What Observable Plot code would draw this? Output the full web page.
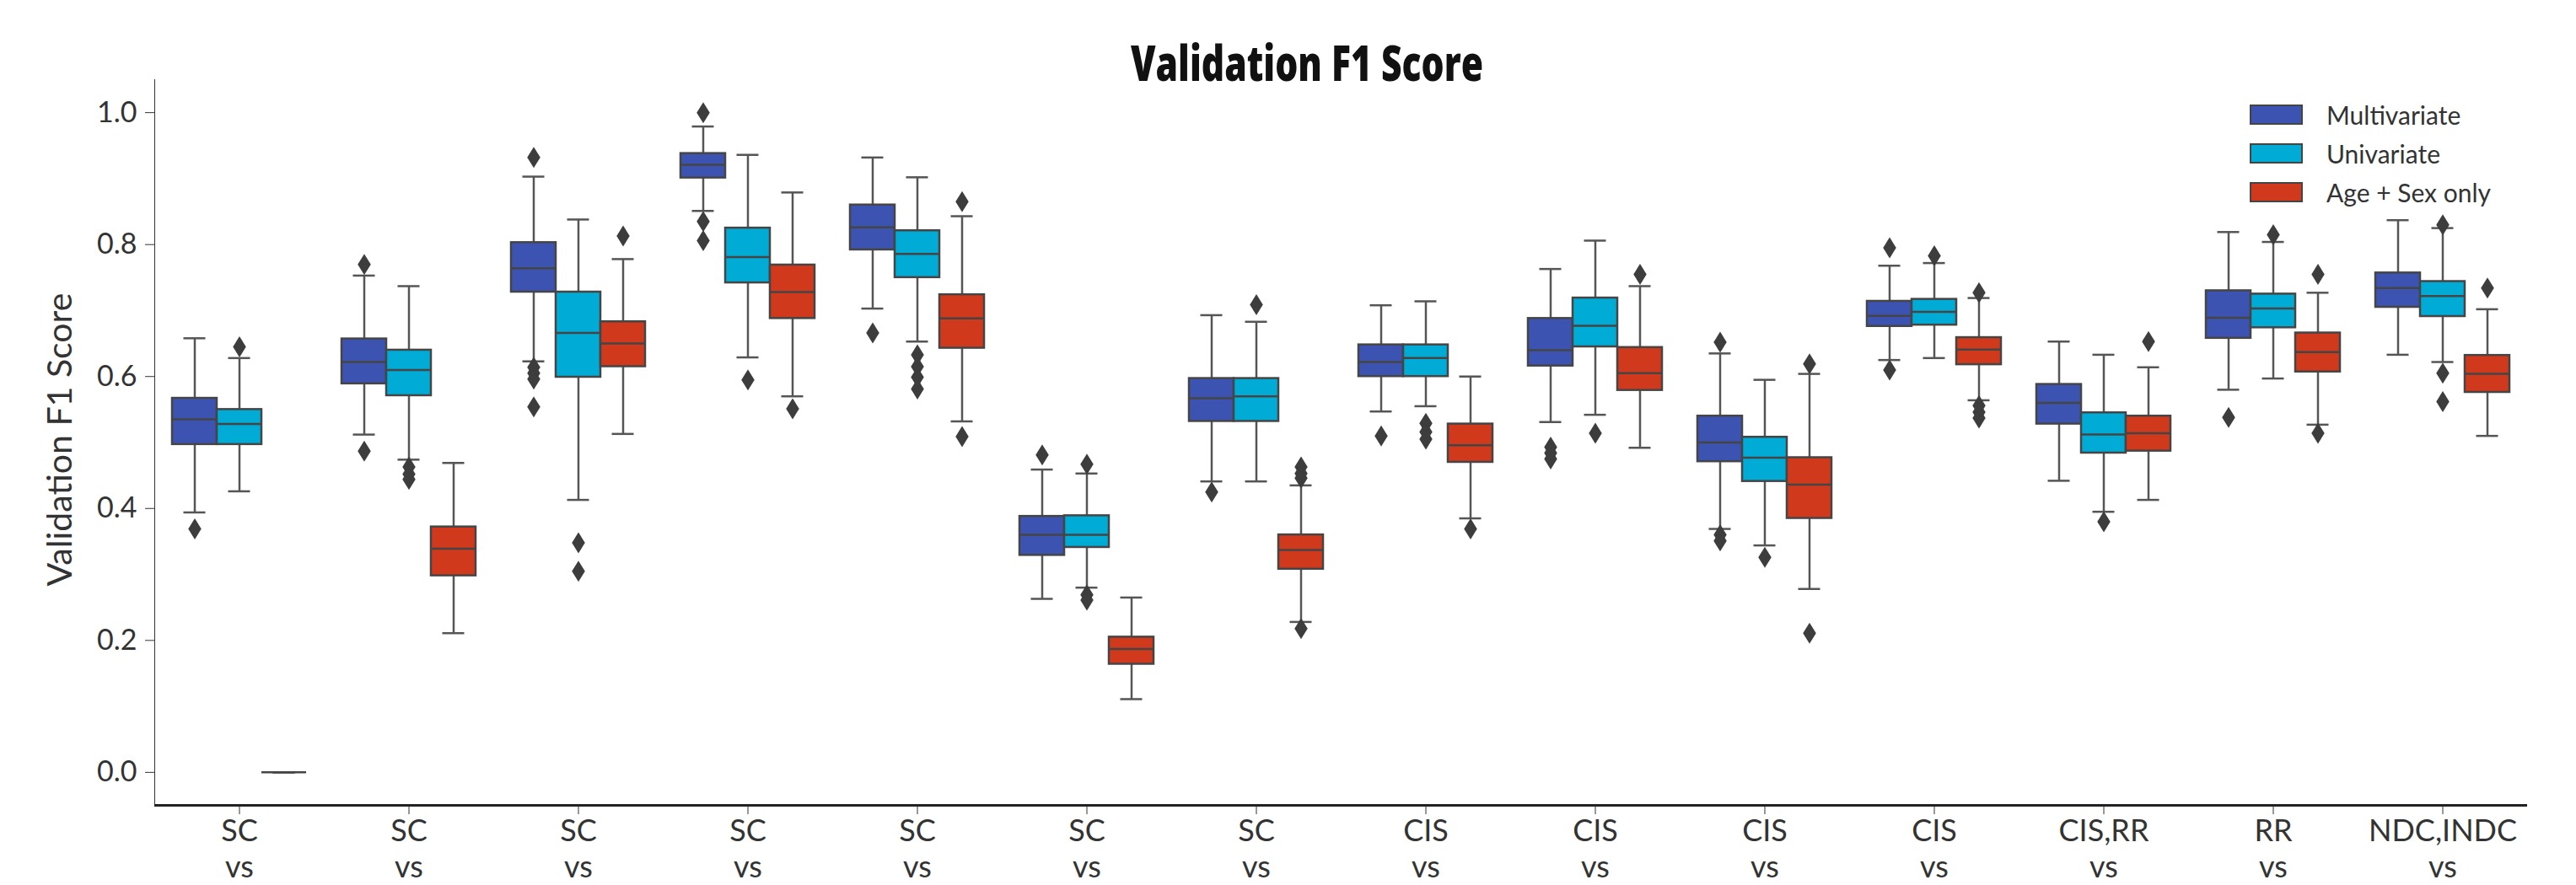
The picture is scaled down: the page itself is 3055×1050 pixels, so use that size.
<!DOCTYPE html>
<html>
<head>
<meta charset="utf-8">
<script src="https://cdn.jsdelivr.net/npm/d3@7"></script>
<script src="https://cdn.jsdelivr.net/npm/@observablehq/plot@0.6"></script>
<style>
  html, body { margin: 0; padding: 0; background: #fff; }
  body { width: 3055px; height: 1050px; overflow: hidden; position: relative; font-family: Lato, "Open Sans", sans-serif; }
  #title { position: absolute; top: 0; left: 0; width: 3055px; height: 88px; z-index: 2; }
  #title span { position: absolute; top: 45px; white-space: nowrap; font-family: "Open Sans", sans-serif; font-weight: 800; font-size: 58px; line-height: 1; color: #111; transform-origin: 0 0; }
  #chart { position: absolute; top: 88px; left: 0; z-index: 1; }
  #ylabel { position: absolute; white-space: nowrap; font-family: Lato, sans-serif; font-size: 36px; color: #333; line-height: 1; transform-origin: 50% 50%; z-index: 2; }
  #legend { position: absolute; left: 2668px; top: 124px; z-index: 2; }
  #legend .row { display: flex; align-items: center; height: 24px; margin-bottom: 22px; }
  #legend .sw { width: 63px; height: 24px; box-sizing: border-box; border: 2.5px solid #444; }
  #legend .lab { margin-left: 28px; font-family: Lato, sans-serif; font-size: 30px; color: #333; }
</style>
</head>
<body>
<div id="title"><span>Validation F1 Score</span></div>
<div id="chart"></div>
<div id="ylabel">Validation F1 Score</div>
<div id="legend"></div>
<script>
// ---- data ----
const categories = ["SC\nvs", "SC\nvs", "SC\nvs", "SC\nvs", "SC\nvs", "SC\nvs", "SC\nvs",
                    "CIS\nvs", "CIS\nvs", "CIS\nvs", "CIS\nvs", "CIS,RR\nvs", "RR\nvs", "NDC,INDC\nvs"];
const seriesNames = ["Multivariate", "Univariate", "Age + Sex only"];
const seriesColors = ["#3C53B2", "#00ABD6", "#D1391C"];
const yTicks = [0.0, 0.2, 0.4, 0.6, 0.8, 1.0];

// [lower whisker, Q1, median, Q3, upper whisker]
const multivariateStats = [
  [0.394, 0.497, 0.535, 0.567, 0.658],
  [0.512, 0.589, 0.622, 0.657, 0.753],
  [0.623, 0.728, 0.764, 0.803, 0.903],
  [0.851, 0.901, 0.921, 0.938, 0.979],
  [0.703, 0.792, 0.826, 0.860, 0.932],
  [0.263, 0.329, 0.360, 0.388, 0.459],
  [0.441, 0.532, 0.567, 0.597, 0.693],
  [0.547, 0.600, 0.622, 0.648, 0.708],
  [0.531, 0.616, 0.640, 0.688, 0.763],
  [0.369, 0.471, 0.500, 0.540, 0.635],
  [0.625, 0.676, 0.692, 0.714, 0.768],
  [0.442, 0.528, 0.560, 0.588, 0.653],
  [0.580, 0.658, 0.689, 0.730, 0.819],
  [0.633, 0.705, 0.734, 0.757, 0.837]
];
const univariateStats = [
  [0.426, 0.497, 0.528, 0.550, 0.628],
  [0.474, 0.571, 0.610, 0.640, 0.737],
  [0.413, 0.599, 0.666, 0.728, 0.838],
  [0.629, 0.742, 0.781, 0.825, 0.936],
  [0.653, 0.750, 0.786, 0.821, 0.902],
  [0.280, 0.341, 0.360, 0.389, 0.453],
  [0.441, 0.532, 0.570, 0.597, 0.683],
  [0.555, 0.600, 0.628, 0.648, 0.714],
  [0.542, 0.645, 0.677, 0.719, 0.806],
  [0.344, 0.441, 0.477, 0.508, 0.595],
  [0.628, 0.678, 0.698, 0.717, 0.772],
  [0.395, 0.484, 0.512, 0.545, 0.633],
  [0.597, 0.674, 0.703, 0.725, 0.804],
  [0.622, 0.691, 0.722, 0.744, 0.825]
];
const ageSexStats = [
  [0.000, 0.000, 0.000, 0.000, 0.000],
  [0.211, 0.298, 0.339, 0.372, 0.469],
  [0.513, 0.615, 0.650, 0.683, 0.778],
  [0.570, 0.688, 0.728, 0.769, 0.879],
  [0.532, 0.643, 0.688, 0.724, 0.843],
  [0.111, 0.164, 0.187, 0.205, 0.265],
  [0.228, 0.308, 0.337, 0.360, 0.435],
  [0.385, 0.470, 0.496, 0.528, 0.600],
  [0.492, 0.579, 0.605, 0.644, 0.737],
  [0.278, 0.385, 0.436, 0.477, 0.604],
  [0.564, 0.618, 0.641, 0.659, 0.719],
  [0.413, 0.487, 0.514, 0.540, 0.614],
  [0.527, 0.607, 0.637, 0.666, 0.727],
  [0.510, 0.576, 0.604, 0.632, 0.702]
];

const multivariateOutliers = [
  [0.369], [0.770, 0.487], [0.932, 0.614, 0.605, 0.596, 0.554], [1.000, 0.835, 0.806],
  [0.666], [0.481], [0.425], [0.510], [0.493, 0.484, 0.475], [0.652, 0.360, 0.351],
  [0.795, 0.610], [], [0.538], []
];
const univariateOutliers = [
  [0.645], [0.463, 0.452, 0.444], [0.348, 0.305], [0.595], [0.633, 0.615, 0.599, 0.581],
  [0.467, 0.269, 0.261], [0.709], [0.529, 0.516, 0.505], [0.514], [0.326], [0.783],
  [0.380], [0.815], [0.830, 0.605, 0.562]
];
const ageSexOutliers = [
  [], [], [0.813], [0.551], [0.865, 0.509], [], [0.463, 0.453, 0.446, 0.218], [0.369],
  [0.755], [0.619, 0.211], [0.727, 0.556, 0.546, 0.537], [0.653], [0.755, 0.514], [0.734]
];

// ---- build tables ----
const allStats = [multivariateStats, univariateStats, ageSexStats];
const allOutliers = [multivariateOutliers, univariateOutliers, ageSexOutliers];
const boxes = [];
const outliers = [];
seriesNames.forEach((s, j) => {
  allStats[j].forEach((st, i) => boxes.push({cat: i, series: s, lo: st[0], q1: st[1], med: st[2], q3: st[3], hi: st[4]}));
  allOutliers[j].forEach((list, i) => list.forEach(v => outliers.push({cat: i, series: s, v})));
});

const edge = "#454545";
const thinDiamond = {
  draw(context, size) {
    const r = Math.sqrt(size / Math.PI);
    const w = r * 0.62;
    context.moveTo(0, -r);
    context.lineTo(w, 0);
    context.lineTo(0, r);
    context.lineTo(-w, 0);
    context.closePath();
  }
};

const chart = Plot.plot({
  width: 3055,
  height: 962,
  marginLeft: 178,
  marginRight: 54,
  marginTop: 6,
  marginBottom: 95,
  style: {fontFamily: "Lato, sans-serif", fontSize: "34px", color: "#333", background: "transparent", overflow: "visible"},
  fx: {domain: d3.range(categories.length), padding: 0, label: null},
  x: {domain: seriesNames, paddingInner: 0, paddingOuter: 0.375, axis: null},
  y: {domain: [-0.05, 1.05], ticks: yTicks, tickFormat: d3.format(".1f"), tickSize: 11, tickPadding: 10,
      label: null, line: true},
  color: {domain: seriesNames, range: seriesColors},
  marks: [
    Plot.axisFx({anchor: "bottom", tickSize: 11, tickPadding: 1, tickFormat: i => categories[i], lineHeight: 1.2, fontSize: 36, label: null}),
    Plot.ruleY([-0.05], {stroke: "#222", strokeWidth: 3}),
    Plot.ruleX(boxes, {fx: "cat", x: "series", y1: "q3", y2: "hi", stroke: "#555", strokeWidth: 2.5}),
    Plot.ruleX(boxes, {fx: "cat", x: "series", y1: "lo", y2: "q1", stroke: "#555", strokeWidth: 2.5}),
    Plot.tickY(boxes, {fx: "cat", x: "series", y: "hi", stroke: "#555", strokeWidth: 2.5, insetLeft: 13.5, insetRight: 13.5}),
    Plot.tickY(boxes, {fx: "cat", x: "series", y: "lo", stroke: "#555", strokeWidth: 2.5, insetLeft: 13.5, insetRight: 13.5}),
    Plot.barY(boxes, {fx: "cat", x: "series", y1: "q1", y2: "q3", fill: "series", stroke: edge, strokeWidth: 2.5}),
    Plot.tickY(boxes, {fx: "cat", x: "series", y: "med", stroke: edge, strokeWidth: 2.5}),
    Plot.dot(outliers, {fx: "cat", x: "series", y: "v", symbol: thinDiamond, r: 12.5, fill: "#3d3d3d", stroke: "none"})
  ]
});
document.getElementById("chart").appendChild(chart);

// legend
const legend = document.getElementById("legend");
seriesNames.forEach((s, j) => {
  const row = document.createElement("div");
  row.className = "row";
  const sw = document.createElement("span");
  sw.className = "sw";
  sw.style.background = seriesColors[j];
  const lab = document.createElement("span");
  lab.className = "lab";
  lab.textContent = s;
  row.appendChild(sw);
  row.appendChild(lab);
  legend.appendChild(row);
});

// title: condensed bold, fitted to the reference width and centred
const t = document.querySelector("#title span");
const w = t.getBoundingClientRect().width;
const targetW = 418, centerX = 1550;
t.style.transform = `scaleX(${targetW / w})`;
t.style.left = (centerX - targetW / 2) + "px";

// rotated y label, fitted to the reference length and centred on the axis
const yl = document.getElementById("ylabel");
const yw = yl.getBoundingClientRect().width;
yl.style.fontSize = (36 * 348 / yw) + "px";
const r2 = yl.getBoundingClientRect();
yl.style.left = (70 - r2.width / 2) + "px";
yl.style.top = (522 - r2.height / 2) + "px";
yl.style.transform = "rotate(-90deg)";
</script>
</body>
</html>
